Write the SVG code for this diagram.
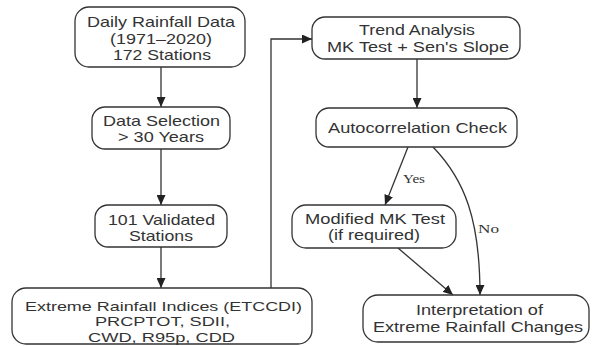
<svg xmlns="http://www.w3.org/2000/svg" width="592" height="346" viewBox="0 0 592 346">
<defs>
<marker id="ah" markerUnits="userSpaceOnUse" markerWidth="11" markerHeight="9" refX="10" refY="4.5" orient="auto">
<path d="M0,0 L10,4.5 L0,9 z" fill="#222"/>
</marker>
<style>
.box{fill:#fff;stroke:#333;stroke-width:1.3}
.t{font-family:"Liberation Sans",Arial,sans-serif;font-size:15px;fill:#333;text-anchor:middle}
.s{font-size:13.5px}
.lbl{font-family:"Liberation Serif","Times New Roman",serif;font-size:13px;fill:#333}
.c{fill:none;stroke:#333;stroke-width:1.3;marker-end:url(#ah)}
</style>
</defs>
<rect width="592" height="346" fill="#fff"/>
<g id="connectors">
<path class="c" d="M161 67 V107"/>
<path class="c" d="M161 149 V205"/>
<path class="c" d="M161 247 V288"/>
<path class="c" d="M271 288 V39 H312"/>
<path class="c" d="M417 59 V108"/>
<path class="c" d="M408 147 L385 205"/>
<path class="c" d="M433 147 C465 180 480 220 480 295"/>
<path class="c" d="M398 248 L453 295"/>
<text class="lbl" x="403" y="183" textLength="22" lengthAdjust="spacingAndGlyphs">Yes</text>
<text class="lbl" x="478" y="233" textLength="21" lengthAdjust="spacingAndGlyphs">No</text>
</g>
<g id="daily-data">
<rect class="box" x="75" y="7" width="170" height="60" rx="14"/>
<text class="t" x="161" y="27" textLength="148" lengthAdjust="spacingAndGlyphs">Daily Rainfall Data</text>
<text class="t" x="161" y="44" textLength="102" lengthAdjust="spacingAndGlyphs">(1971–2020)</text>
<text class="t" x="162" y="60" textLength="98" lengthAdjust="spacingAndGlyphs">172 Stations</text>
</g>
<g id="data-selection">
<rect class="box" x="92" y="107" width="138" height="42" rx="13"/>
<text class="t" x="161.5" y="126" textLength="117" lengthAdjust="spacingAndGlyphs">Data Selection</text>
<text class="t" x="161" y="142" textLength="86" lengthAdjust="spacingAndGlyphs">&gt; 30 Years</text>
</g>
<g id="validated">
<rect class="box" x="95" y="205" width="132" height="42" rx="13"/>
<text class="t" x="161.5" y="225" textLength="107" lengthAdjust="spacingAndGlyphs">101 Validated</text>
<text class="t" x="161" y="241" textLength="64" lengthAdjust="spacingAndGlyphs">Stations</text>
</g>
<g id="indices">
<rect class="box" x="12" y="288" width="300" height="56" rx="14"/>
<text class="t s" x="163.5" y="310.5" textLength="277" lengthAdjust="spacingAndGlyphs">Extreme Rainfall Indices (ETCCDI)</text>
<text class="t s" x="162.5" y="326" textLength="135" lengthAdjust="spacingAndGlyphs">PRCPTOT, SDII,</text>
<text class="t s" x="161.5" y="341.5" textLength="147" lengthAdjust="spacingAndGlyphs">CWD, R95p, CDD</text>
</g>
<g id="trend">
<rect class="box" x="312" y="17" width="208" height="42" rx="13"/>
<text class="t" x="417" y="35" textLength="116" lengthAdjust="spacingAndGlyphs">Trend Analysis</text>
<text class="t" x="418" y="52" textLength="182" lengthAdjust="spacingAndGlyphs">MK Test + Sen's Slope</text>
</g>
<g id="autocorrelation">
<rect class="box" x="316" y="108" width="201" height="39" rx="13"/>
<text class="t" x="417.5" y="133" textLength="179" lengthAdjust="spacingAndGlyphs">Autocorrelation Check</text>
</g>
<g id="modified-mk">
<rect class="box" x="292" y="205" width="164" height="43" rx="14"/>
<text class="t" x="375" y="224" textLength="140" lengthAdjust="spacingAndGlyphs">Modified MK Test</text>
<text class="t" x="374" y="240" textLength="92" lengthAdjust="spacingAndGlyphs">(if required)</text>
</g>
<g id="interpretation">
<rect class="box" x="363" y="295" width="226" height="47" rx="15"/>
<text class="t" x="479.5" y="315" textLength="127" lengthAdjust="spacingAndGlyphs">Interpretation of</text>
<text class="t" x="478" y="332" textLength="210" lengthAdjust="spacingAndGlyphs">Extreme Rainfall Changes</text>
</g>
</svg>
